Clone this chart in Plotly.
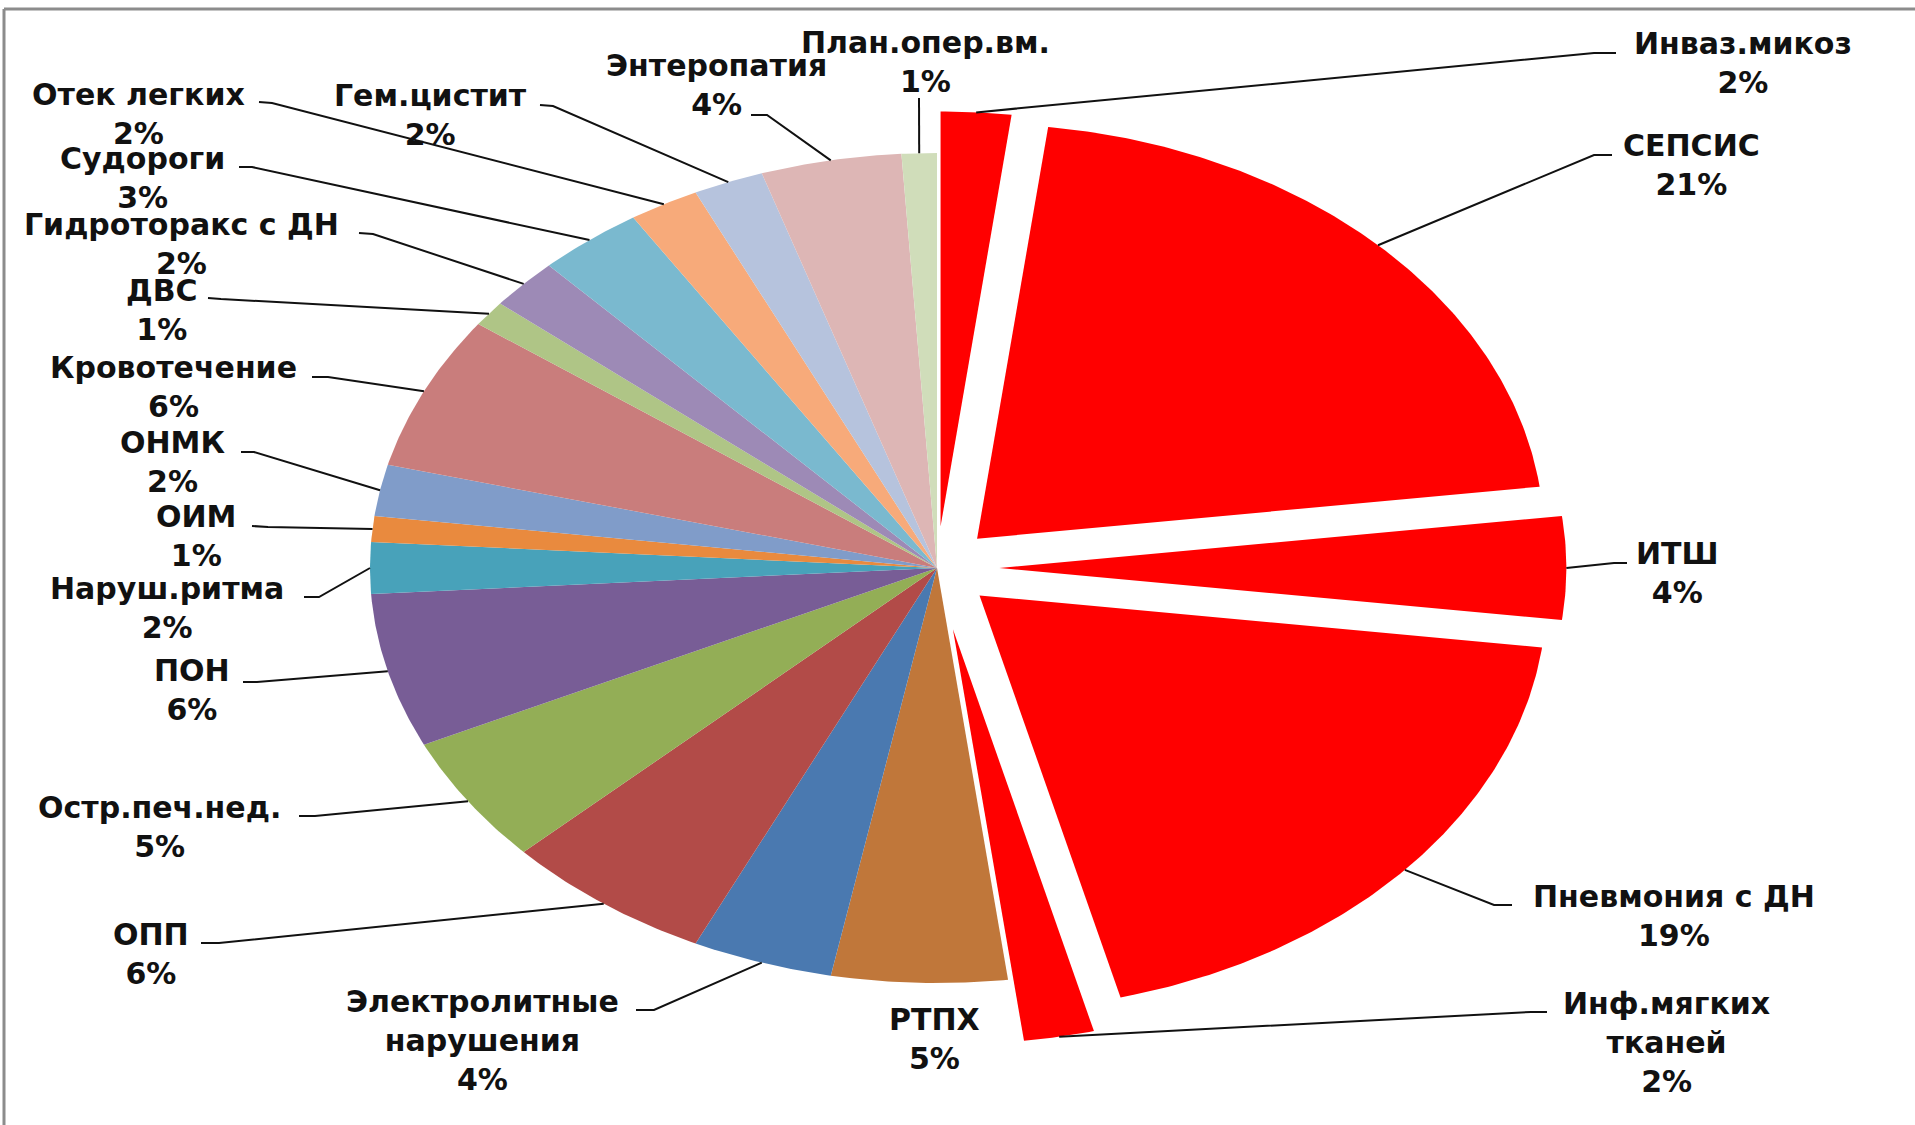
import numpy as np
import plotly.graph_objects as go

# ---- data: causes, clockwise from 12 o'clock, share in percent ----
causes = [
    "Инваз.микоз", "СЕПСИС", "ИТШ", "Пневмония с ДН", "Инф.мягких тканей",
    "РТПХ", "Электролитные нарушения", "ОПП", "Остр.печ.нед.", "ПОН",
    "Наруш.ритма", "ОИМ", "ОНМК", "Кровотечение", "ДВС",
    "Гидроторакс с ДН", "Судороги", "Отек легких", "Гем.цистит",
    "Энтеропатия", "План.опер.вм.",
]
shares = [2, 21, 4, 19, 2, 5, 4, 6, 5, 6, 2, 1, 2, 6, 1, 2, 3, 2, 2, 4, 1]

# ---- styling ----
slice_colors = [
    "#FF0000", "#FF0000", "#FF0000", "#FF0000", "#FF0000",
    "#C0773A", "#4A79B0", "#B24B48", "#93AE56", "#785D96",
    "#48A2BA", "#E98A3E", "#809CC9", "#C97D7C", "#AFC586",
    "#9D8AB6", "#7AB9CF", "#F7AA7A", "#B6C3DD", "#DDB6B5", "#D0DDBA",
]
explode = [0.10, 0.10, 0.11, 0.10, 0.15] + [0.0] * 16

# label text wrapping
wrap = {"Инф.мягких тканей": "Инф.мягких<br>тканей",
        "Электролитные нарушения": "Электролитные<br>нарушения"}

# label block centres (px) and leader stub (label end, elbow) in px
label_pos = [
    (1743, 63), (1691, 165), (1677, 573), (1674, 916), (1666, 1042),
    (934, 1039), (482, 1040), (151, 954), (159, 827), (192, 690),
    (167, 608), (196, 536), (172, 462), (173, 387), (162, 310),
    (181, 244), (142, 178), (138, 114), (430, 115), (716, 85), (925, 62),
]
stubs = [
    ((1616, 53), (1594, 53)), ((1612, 155), (1594, 155)),
    ((1627, 563), (1614, 563)), ((1512, 905), (1494, 905)),
    ((1547, 1012), (1531, 1012)), None,
    ((636, 1010), (654, 1010)), ((201, 943), (219, 943)),
    ((299, 816), (315, 816)), ((243, 682), (257, 682)),
    ((304, 597), (319, 597)), ((252, 526), (268, 527)),
    ((241, 452), (254, 452)), ((312, 377), (328, 377)),
    ((208, 298), (221, 299)), ((359, 233), (373, 234)),
    ((239, 167), (252, 167)), ((259, 102), (272, 103)),
    ((540, 105), (553, 106)), ((751, 115), (767, 115)),
    ((919, 98), (919, 99)),
]

# pie geometry on the page (px); the pie is drawn as an ellipse
CX, CY = 937, 568
RX, RY = 567, 415
W, H = 1915, 1125


def to_px(r, theta_deg, off=(0.0, 0.0)):
    t = np.radians(theta_deg)
    ux = off[0] + r * np.sin(t)
    uy = off[1] + r * np.cos(t)
    return CX + RX * ux, CY - RY * uy


total = float(sum(shares))
bounds = np.concatenate([[0.0], np.cumsum(shares)]) / total * 360.0

fig = go.Figure()
anchors = []
for i, name in enumerate(causes):
    a0, a1 = bounds[i], bounds[i + 1]
    mid = 0.5 * (a0 + a1)
    m = np.radians(mid)
    off = (explode[i] * np.sin(m), explode[i] * np.cos(m))
    arc = np.linspace(a0, a1, max(int((a1 - a0) * 2) + 2, 4))
    xs, ys = to_px(1.0, arc, off)
    ax, ay = to_px(0.0, 0.0, off)
    xs = np.concatenate([[ax], xs, [ax]])
    ys = np.concatenate([[ay], ys, [ay]])
    pct = round(100 * shares[i] / total)
    fig.add_trace(go.Scatter(
        x=xs, y=ys, mode="lines", fill="toself",
        fillcolor=slice_colors[i], line=dict(width=0, color=slice_colors[i]),
        name=name, hoveron="fills",
        hovertemplate=f"{name}: {pct}%<extra></extra>",
        showlegend=False,
    ))
    anchors.append(to_px(1.0, mid, off))

# leader lines: label stub -> elbow -> outer edge of the slice
lx, ly = [], []
for i, st in enumerate(stubs):
    if st is None:
        continue
    (sx, sy), (ex, ey) = st
    px, py = anchors[i]
    lx += [sx, ex, float(px), None]
    ly += [sy, ey, float(py), None]
fig.add_trace(go.Scatter(x=lx, y=ly, mode="lines",
                         line=dict(color="#111111", width=2),
                         hoverinfo="skip", showlegend=False))

# data labels
for i, name in enumerate(causes):
    pct = round(100 * shares[i] / total)
    txt = f"<b>{wrap.get(name, name)}<br>{pct}%</b>"
    x, y = label_pos[i]
    fig.add_annotation(x=x, y=y, xref="x", yref="y", text=txt,
                       showarrow=False, xanchor="center", yanchor="middle",
                       align="center",
                       font=dict(family="DejaVu Sans", size=30, color="#111111"))

# chart-area frame (top and left edges)
fig.add_shape(type="line", xref="x", yref="y", x0=4, y0=9, x1=W, y1=9,
              line=dict(color="#8C8C8C", width=3))
fig.add_shape(type="line", xref="x", yref="y", x0=4, y0=9, x1=4, y1=H,
              line=dict(color="#8C8C8C", width=3))

fig.update_layout(
    width=W, height=H,
    margin=dict(l=0, r=0, t=0, b=0),
    paper_bgcolor="white", plot_bgcolor="white",
    xaxis=dict(range=[0, W], visible=False, fixedrange=True),
    yaxis=dict(range=[H, 0], visible=False, fixedrange=True),
    showlegend=False,
)

fig.write_html("out.html")
